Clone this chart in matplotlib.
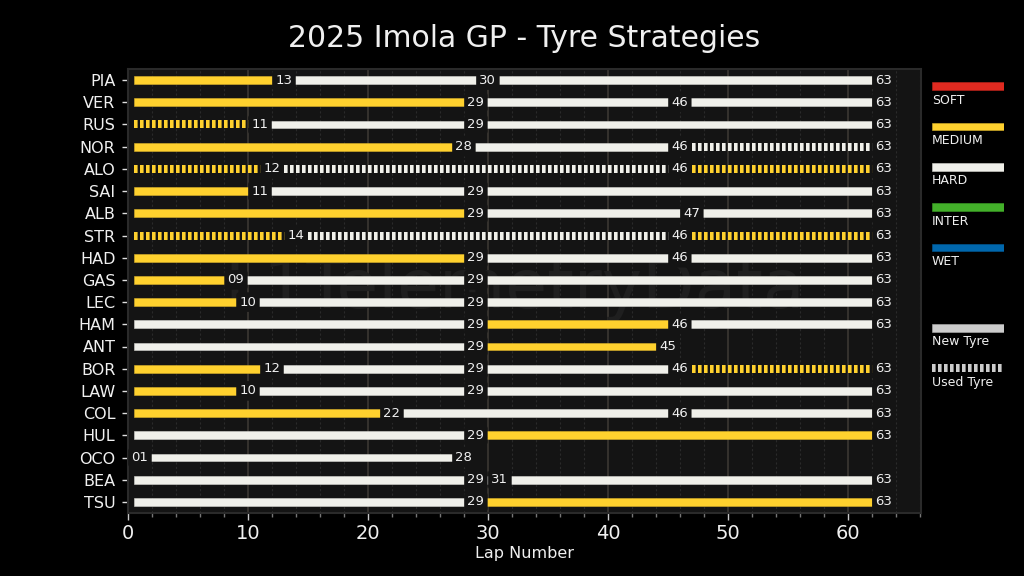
import matplotlib
matplotlib.use("Agg")
import matplotlib.pyplot as plt

# stints for each driver, in finishing order
drivers = ["PIA", "VER", "RUS", "NOR", "ALO", "SAI", "ALB", "STR", "HAD", "GAS",
           "LEC", "HAM", "ANT", "BOR", "LAW", "COL", "HUL", "OCO", "BEA", "TSU"]
stint_ends = [
    [13, 30, 63], [29, 46, 63], [11, 29, 63], [28, 46, 63], [12, 46, 63],
    [11, 29, 63], [29, 47, 63], [14, 46, 63], [29, 46, 63], [9, 29, 63],
    [10, 29, 63], [29, 46, 63], [29, 45], [12, 29, 46, 63], [10, 29, 63],
    [22, 46, 63], [29, 63], [1, 28], [29, 31, 63], [29, 63],
]
stint_compounds = [
    "MHH", "MHH", "MHH", "MHH", "MHM",
    "MHH", "MHH", "MHM", "MHH", "MHH",
    "MHH", "HMH", "HM", "MHHM", "MHH",
    "MHH", "HM", "HH", "HHH", "HM",
]
# 1 = used set
stint_used = [
    [0, 0, 0], [0, 0, 0], [1, 0, 0], [0, 0, 1], [1, 1, 1],
    [0, 0, 0], [0, 0, 0], [1, 1, 1], [0, 0, 0], [0, 0, 0],
    [0, 0, 0], [0, 0, 0], [0, 0], [0, 0, 0, 1], [0, 0, 0],
    [0, 0, 0], [0, 0], [0, 0], [0, 0, 0], [0, 0],
]
race_start = 0.5

compound_colors = {"S": "#e02a20", "M": "#ffd12e", "H": "#f0f0ea", "I": "#43b02a", "W": "#0067ad"}
edge_colors = {"S": "#c0241b", "M": "#dcb42a", "H": "#d6d6d0", "I": "#3ba024", "W": "#005c9a"}
legend_compounds = [("SOFT", "S"), ("MEDIUM", "M"), ("HARD", "H"), ("INTER", "I"), ("WET", "W")]
legend_tyres = ["New Tyre", "Used Tyre"]

BG = "#141414"
TXT = "#f0f0f0"
USED_DASH = (0, (3.6 / 8, 2.4 / 8))


def draw_used(ax, x0, x1, y, color):
    ax.plot([x0, x1], [y, y], color=color, lw=5.76, linestyle=USED_DASH,
            dash_capstyle="butt", zorder=3)


fig = plt.figure(figsize=(10.24, 5.76), dpi=100, facecolor="black")
ax = fig.add_axes([128 / 1024, 1 - 513 / 576, (921 - 128) / 1024, (513 - 69) / 576], facecolor=BG)

for row, driver in enumerate(drivers):
    start = race_start
    for i, end in enumerate(stint_ends[row]):
        comp = stint_compounds[row][i]
        if stint_used[row][i]:
            draw_used(ax, start, end, row, compound_colors[comp])
        else:
            ax.barh(row, end - start, left=start, height=0.36, color=compound_colors[comp],
                    edgecolor=edge_colors[comp], linewidth=0.4, zorder=3)
        ax.text(end, row, f"{end:02d}", ha="center", va="center", fontsize=9.5, color=TXT, zorder=5,
                bbox=dict(boxstyle="round,pad=0.25", facecolor=BG, edgecolor="none"))
        start = end

ax.set_yticks(range(len(drivers)))
ax.set_yticklabels(drivers, fontsize=11.5, color=TXT)
ax.set_ylim(len(drivers) - 0.5, -0.5)
ax.set_xlim(0, 66.1)
ax.set_xticks(range(0, 61, 10))
ax.set_xticks(range(0, 67, 2), minor=True)
ax.tick_params(axis="x", which="major", length=5, width=1, color="#c8c8c8", labelcolor=TXT, labelsize=14, pad=3)
ax.tick_params(axis="x", which="minor", length=3, width=1, color="#777777")
ax.tick_params(axis="y", length=4, width=1, color="#e0e0e0", pad=5)
ax.set_axisbelow(True)
ax.xaxis.grid(True, which="major", color="#35322e", lw=1.4, zorder=1)
ax.xaxis.grid(True, which="minor", color="#2a2a2a", lw=0.8, ls=(0, (2, 2)), zorder=1)
for s in ax.spines.values():
    s.set_color("#2a2a2a")
    s.set_linewidth(1.5)

ax.set_xlabel("Lap Number", fontsize=11.5, color=TXT, labelpad=2)
ax.set_title("2025 Imola GP - Tyre Strategies", fontsize=21.5, color=TXT, pad=16)

# watermark behind the bars
ax.text(0.487, 0.505, "F1TelemetryData", transform=ax.transAxes, fontsize=49, color="#1f1f1f",
        ha="center", va="center", zorder=2)

# legend panel, coordinates in figure pixels
leg = fig.add_axes([932 / 1024, 0, 72 / 1024, 1])
leg.set_xlim(0, 72)
leg.set_ylim(576, 0)
leg.axis("off")
for i, (name, comp) in enumerate(legend_compounds):
    y = 86 + 40.4 * i
    leg.barh(y, 72, height=7.5, color=compound_colors[comp], edgecolor=edge_colors[comp], linewidth=0.4)
    leg.text(0, y + 14, name, fontsize=9, color=TXT, va="center", ha="left")
for i, name in enumerate(legend_tyres):
    y = 328 + 40.4 * i
    if name == "New Tyre":
        leg.barh(y, 72, height=7.5, color="#cccccc", edgecolor="#b0b0b0", linewidth=0.4)
    else:
        draw_used(leg, 0, 72, y, "#cccccc")
    leg.text(0, y + 14, name, fontsize=9, color=TXT, va="center", ha="left")

fig.savefig("out.png", dpi=100, facecolor="black")
